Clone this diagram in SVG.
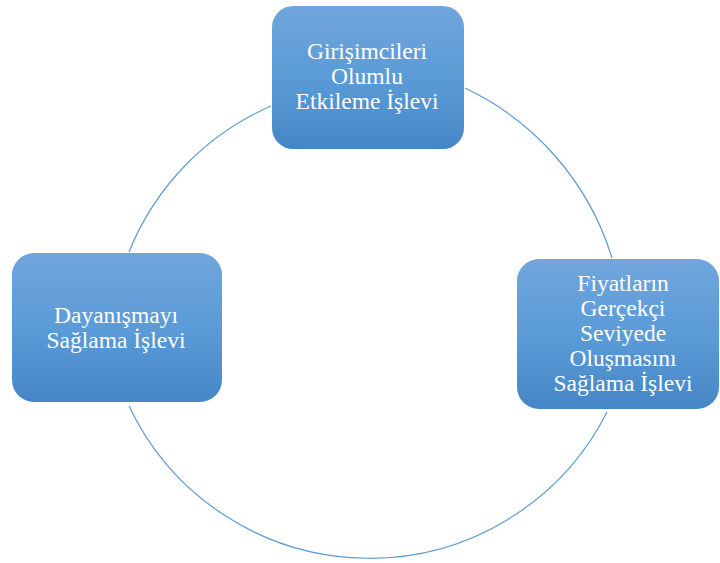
<svg xmlns="http://www.w3.org/2000/svg" width="720" height="563" viewBox="0 0 720 563">
<defs>
<linearGradient id="g" x1="0" y1="0" x2="0" y2="1">
<stop offset="0" stop-color="#70A6DC"/>
<stop offset="0.5" stop-color="#5B9BD8"/>
<stop offset="1" stop-color="#4586C6"/>
</linearGradient>
</defs>
<style>
.box{fill:url(#g);stroke:none}
.t{font-family:"Liberation Serif","Times New Roman",serif;font-size:23.5px;fill:#ffffff;text-anchor:middle}
.c{fill:none;stroke:#5B9BD5;stroke-width:1.2}
</style>
<rect width="720" height="563" fill="#ffffff"/>
<g id="connectors">
<path class="c" d="M465,88 A278,278 0 0 1 612,258"/>
<path class="c" d="M607,412 A266,266 0 0 1 129,406"/>
<path class="c" d="M129,252 A268,268 0 0 1 271,106"/>
</g>
<g id="node-top">
<rect class="box" x="272" y="6" width="192" height="143" rx="21"/>
<text class="t" x="367" y="59">Girişimcileri</text>
<text class="t" x="367" y="84">Olumlu</text>
<text class="t" x="367" y="109">Etkileme İşlevi</text>
</g>
<g id="node-right">
<rect class="box" x="517" y="259" width="202" height="150" rx="22"/>
<text class="t" x="623" y="291">Fiyatların</text>
<text class="t" x="623" y="316">Gerçekçi</text>
<text class="t" x="623" y="341">Seviyede</text>
<text class="t" x="623" y="366">Oluşmasını</text>
<text class="t" x="623" y="391">Sağlama İşlevi</text>
</g>
<g id="node-left">
<rect class="box" x="12" y="253" width="210" height="149" rx="22"/>
<text class="t" x="116" y="323">Dayanışmayı</text>
<text class="t" x="116" y="347.5">Sağlama İşlevi</text>
</g>
</svg>
